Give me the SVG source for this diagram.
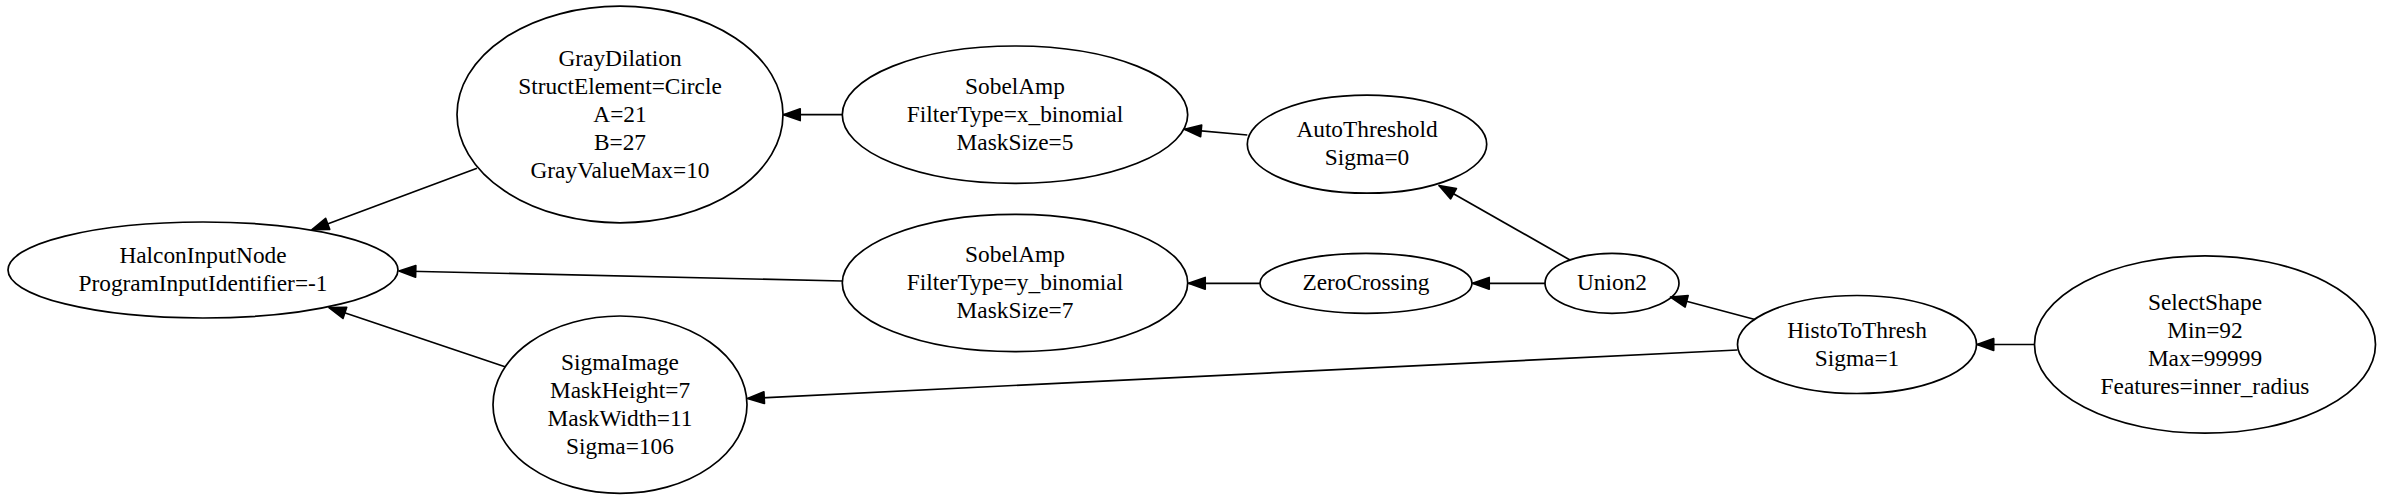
<svg xmlns="http://www.w3.org/2000/svg" width="2385" height="500" viewBox="0 0 2385 500">
<style>
  .node ellipse { fill: none; stroke: #000; stroke-width: 1.7; }
  .node text { font-family: "Liberation Serif", "Times New Roman", serif; font-size: 23.33px; text-anchor: middle; fill: #000; }
  .edges line { stroke: #000; stroke-width: 1.7; marker-end: url(#arrow); }
</style>
<defs>
  <marker id="arrow" viewBox="-2 -2 14 11" markerUnits="userSpaceOnUse" markerWidth="23.38" markerHeight="18.37" refX="10" refY="3.5" orient="auto">
    <path d="M0,0 L10,3.5 L0,7 z" fill="#000" stroke="#000" stroke-width="1" stroke-linejoin="round"/>
  </marker>
</defs>
<rect width="2385" height="500" fill="#fff"/>
<g id="edges" class="edges">
  <line x1="477" y1="168.3" x2="312" y2="229.7"/>
  <line x1="505" y1="366.7" x2="329" y2="307.5"/>
  <line x1="842.3" y1="281" x2="399" y2="271"/>
  <line x1="842.3" y1="114.7" x2="783.5" y2="114.7"/>
  <line x1="1247.3" y1="135" x2="1184.5" y2="129.3"/>
  <line x1="1260" y1="283.3" x2="1188.5" y2="283.3"/>
  <line x1="1570" y1="260" x2="1439" y2="185.5"/>
  <line x1="1545" y1="283.3" x2="1472.5" y2="283.3"/>
  <line x1="1755" y1="319.5" x2="1670.5" y2="297"/>
  <line x1="1737.5" y1="350" x2="747.5" y2="398.5"/>
  <line x1="2034.5" y1="344.5" x2="1977" y2="344.5"/>
</g>
<g id="n_halcon" class="node">
  <ellipse cx="203" cy="270" rx="195" ry="48"/>
  <text x="203" y="263">HalconInputNode</text>
  <text x="203" y="291">ProgramInputIdentifier=-1</text>
</g>
<g id="n_graydilation" class="node">
  <ellipse cx="620" cy="114.5" rx="163" ry="108.3"/>
  <text x="620" y="65.5">GrayDilation</text>
  <text x="620" y="93.5">StructElement=Circle</text>
  <text x="620" y="121.5">A=21</text>
  <text x="620" y="149.5">B=27</text>
  <text x="620" y="177.5">GrayValueMax=10</text>
</g>
<g id="n_sigmaimage" class="node">
  <ellipse cx="620" cy="404.7" rx="127" ry="88.7"/>
  <text x="620" y="369.7">SigmaImage</text>
  <text x="620" y="397.7">MaskHeight=7</text>
  <text x="620" y="425.7">MaskWidth=11</text>
  <text x="620" y="453.7">Sigma=106</text>
</g>
<g id="n_sobelamp_x" class="node">
  <ellipse cx="1015" cy="114.7" rx="172.7" ry="68.7"/>
  <text x="1015" y="93.7">SobelAmp</text>
  <text x="1015" y="121.7">FilterType=x_binomial</text>
  <text x="1015" y="149.7">MaskSize=5</text>
</g>
<g id="n_sobelamp_y" class="node">
  <ellipse cx="1015" cy="283" rx="172.7" ry="68.7"/>
  <text x="1015" y="262">SobelAmp</text>
  <text x="1015" y="290">FilterType=y_binomial</text>
  <text x="1015" y="318">MaskSize=7</text>
</g>
<g id="n_autothreshold" class="node">
  <ellipse cx="1367" cy="144.2" rx="119.7" ry="49"/>
  <text x="1367" y="137.2">AutoThreshold</text>
  <text x="1367" y="165.2">Sigma=0</text>
</g>
<g id="n_zerocrossing" class="node">
  <ellipse cx="1366" cy="283.3" rx="106" ry="30"/>
  <text x="1366" y="290.3">ZeroCrossing</text>
</g>
<g id="n_union2" class="node">
  <ellipse cx="1612" cy="283.3" rx="67" ry="30"/>
  <text x="1612" y="290.3">Union2</text>
</g>
<g id="n_histotothresh" class="node">
  <ellipse cx="1857" cy="344.5" rx="119.5" ry="49"/>
  <text x="1857" y="337.5">HistoToThresh</text>
  <text x="1857" y="365.5">Sigma=1</text>
</g>
<g id="n_selectshape" class="node">
  <ellipse cx="2205" cy="344.5" rx="170.5" ry="88.7"/>
  <text x="2205" y="309.5">SelectShape</text>
  <text x="2205" y="337.5">Min=92</text>
  <text x="2205" y="365.5">Max=99999</text>
  <text x="2205" y="393.5">Features=inner_radius</text>
</g>
</svg>
